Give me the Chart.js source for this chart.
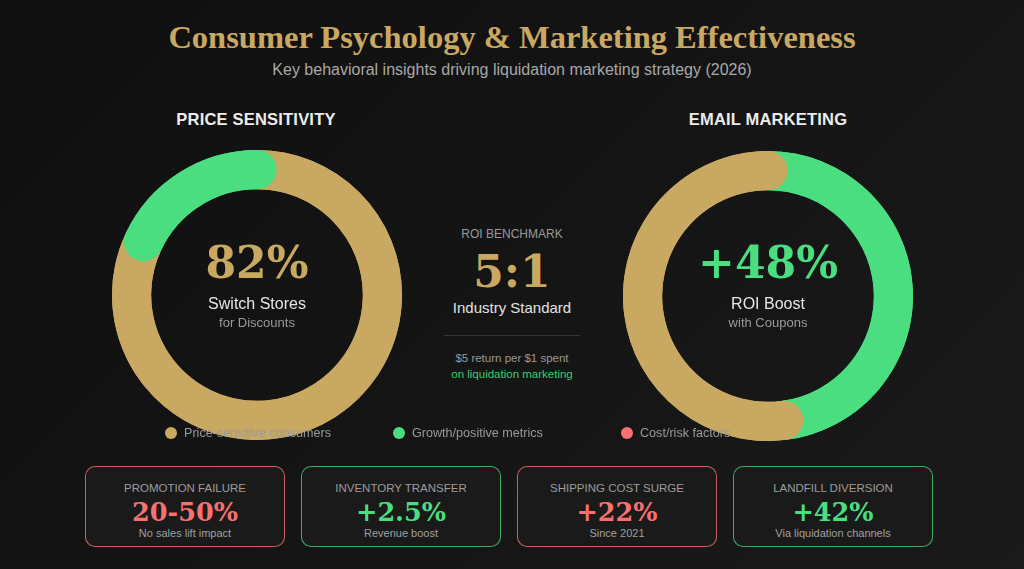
<!DOCTYPE html>
<html>
<head>
<meta charset="utf-8">
<script src="https://cdn.jsdelivr.net/npm/chart.js@4"></script>
<style>
  html, body { margin: 0; padding: 0; }
  body {
    width: 1024px; height: 569px; overflow: hidden; position: relative;
    background: linear-gradient(135deg, #0f0f0f 0%, #151515 55%, #1a1a1a 100%);
    font-family: "Liberation Sans", Arial, sans-serif;
  }
  .abs { position: absolute; text-align: center; white-space: nowrap; }
  .serif { font-family: "DejaVu Serif", serif; font-weight: bold; }
  #title { left: 0; width: 1024px; top: 17px; line-height: 40px; font-size: 32.5px; color: #c9a862;
           font-family: "Liberation Serif", serif; font-weight: bold; }
  #subtitle { left: 0; width: 1024px; top: 60px; line-height: 20px; font-size: 16px; color: #a8a8a8; }
  .section { width: 300px; top: 109px; line-height: 20px; font-size: 16.5px; font-weight: bold; color: #ececec; letter-spacing: 0.2px; }
  .big { width: 240px; line-height: 50px; font-size: 44px; }
  .lab { width: 240px; line-height: 20px; font-size: 16px; color: #e6e6e6; }
  .note { width: 240px; line-height: 18px; font-size: 13px; color: #9a9a9a; }
  canvas { position: absolute; }
  #legend { position: absolute; left: 165px; top: 425px; display: flex; z-index: 5; }
  .item { width: 228px; display: flex; align-items: center; font-size: 12.6px; color: #9a9a9a; line-height: 16px; }
  .dot { width: 12px; height: 12px; border-radius: 50%; margin-right: 7px; }
  #cards { position: absolute; left: 85px; top: 466px; display: flex; gap: 16px; }
  .card { box-sizing: border-box; width: 200px; height: 81px; border: 1.5px solid; border-radius: 10px; background: #1a1a1a; text-align: center; }
  .card .t { margin-top: 13px; font-size: 11.5px; line-height: 16px; color: #9c9c9c; }
  .card .v { font-size: 25.5px; line-height: 31px; margin-top: 1px; }
  .card .s { font-size: 11px; line-height: 14px; color: #a0a0a0; margin-top: -2px; }
</style>
</head>
<body>
<div id="title" class="abs">Consumer Psychology &amp; Marketing Effectiveness</div>
<div id="subtitle" class="abs">Key behavioral insights driving liquidation marketing strategy (2026)</div>

<div class="abs section" style="left:106px">PRICE SENSITIVITY</div>
<div class="abs section" style="left:618px">EMAIL MARKETING</div>

<canvas id="priceChart" width="290" height="290" style="left:112px; top:150px"></canvas>
<canvas id="emailChart" width="290" height="290" style="left:623px; top:151px"></canvas>

<div id="priceValue" class="abs serif big" style="left:137px; top:238px; color:#c9a862"></div>
<div class="abs lab" style="left:137px; top:294px">Switch Stores</div>
<div class="abs note" style="left:137px; top:314px">for Discounts</div>

<div id="emailValue" class="abs serif big" style="left:648px; top:238px; color:#4ade80"></div>
<div class="abs lab" style="left:648px; top:294px">ROI Boost</div>
<div class="abs note" style="left:648px; top:314px">with Coupons</div>

<div class="abs" style="left:412px; width:200px; top:226px; line-height:16px; font-size:12px; color:#9a9a9a">ROI BENCHMARK</div>
<div id="roiValue" class="abs serif" style="left:412px; width:200px; top:248px; line-height:48px; font-size:44px; color:#c9a862"></div>
<div class="abs" style="left:412px; width:200px; top:298px; line-height:20px; font-size:15px; color:#e2e2e2">Industry Standard</div>
<div style="position:absolute; left:444px; width:136px; top:335px; height:1px; background:#353535"></div>
<div class="abs" style="left:412px; width:200px; top:350px; line-height:16px; font-size:11.5px; color:#9a9a9a">$5 return per $1 spent</div>
<div class="abs" style="left:412px; width:200px; top:366px; line-height:16px; font-size:11.5px; color:#3fca6b">on liquidation marketing</div>

<div id="legend"></div>
<div id="cards"></div>

<script>
// colours
const GOLD = '#c9a862';
const GREEN = '#4ade80';
const RED = '#f87171';

// Price sensitivity doughnut
const priceLabels = ['Switch stores for discounts', 'Stay loyal'];
const priceValues = [82, 18];

// Email marketing doughnut
const emailLabels = ['ROI boost with coupons', 'Baseline ROI'];
const emailValues = [48, 52];

// ROI benchmark
const roiRatio = [5, 1];

// legend
const legendLabels = ['Price-sensitive consumers', 'Growth/positive metrics', 'Cost/risk factors'];
const legendColors = [GOLD, GREEN, RED];

// stat cards
const cardTitles = ['PROMOTION FAILURE', 'INVENTORY TRANSFER', 'SHIPPING COST SURGE', 'LANDFILL DIVERSION'];
const cardValues = ['20-50%', '+2.5%', '+22%', '+42%'];
const cardNotes = ['No sales lift impact', 'Revenue boost', 'Since 2021', 'Via liquidation channels'];
const cardKinds = ['risk', 'growth', 'risk', 'growth'];

// round caps on every arc, drawn in data order so later arcs sit on top
const roundCaps = {
    id: 'roundCaps',
    afterDatasetsDraw(chart) {
        const ctx = chart.ctx;
        chart.getDatasetMeta(0).data.forEach(arc => {
            const p = arc.getProps(['x', 'y', 'startAngle', 'endAngle', 'innerRadius', 'outerRadius']);
            const w = p.outerRadius - p.innerRadius;
            ctx.save();
            ctx.beginPath();
            ctx.arc(p.x, p.y, p.innerRadius + w / 2, p.startAngle, p.endAngle);
            ctx.lineWidth = w;
            ctx.lineCap = 'round';
            ctx.strokeStyle = arc.options.backgroundColor;
            ctx.stroke();
            ctx.restore();
        });
    }
};

function ring(id, labels, values, colors) {
    return new Chart(document.getElementById(id), {
        type: 'doughnut',
        data: {
            labels: labels,
            datasets: [{
                data: values,
                backgroundColor: colors,
                borderWidth: 0,
                hoverOffset: 0
            }]
        },
        options: {
            responsive: false,
            animation: false,
            events: [],
            cutout: '73%',
            plugins: { legend: { display: false }, tooltip: { enabled: false } }
        },
        plugins: [roundCaps]
    });
}

ring('priceChart', priceLabels, priceValues, [GOLD, GREEN]);
ring('emailChart', emailLabels, emailValues, [GREEN, GOLD]);

document.getElementById('priceValue').textContent = priceValues[0] + '%';
document.getElementById('emailValue').textContent = '+' + emailValues[0] + '%';
document.getElementById('roiValue').textContent = roiRatio.join(':');

// legend
const legend = document.getElementById('legend');
legendLabels.forEach((txt, i) => {
    const it = document.createElement('div');
    it.className = 'item';
    it.innerHTML = '<span class="dot" style="background:' + legendColors[i] + '"></span>' + txt;
    legend.appendChild(it);
});

// cards
const cards = document.getElementById('cards');
cardTitles.forEach((t, i) => {
    const c = cardKinds[i] === 'risk' ? RED : GREEN;
    const border = cardKinds[i] === 'risk' ? 'rgba(248,113,113,0.8)' : 'rgba(74,222,128,0.75)';
    const d = document.createElement('div');
    d.className = 'card';
    d.style.borderColor = border;
    d.innerHTML = '<div class="t">' + t + '</div>' +
        '<div class="v serif" style="color:' + c + '">' + cardValues[i] + '</div>' +
        '<div class="s">' + cardNotes[i] + '</div>';
    cards.appendChild(d);
});
</script>
</body>
</html>
